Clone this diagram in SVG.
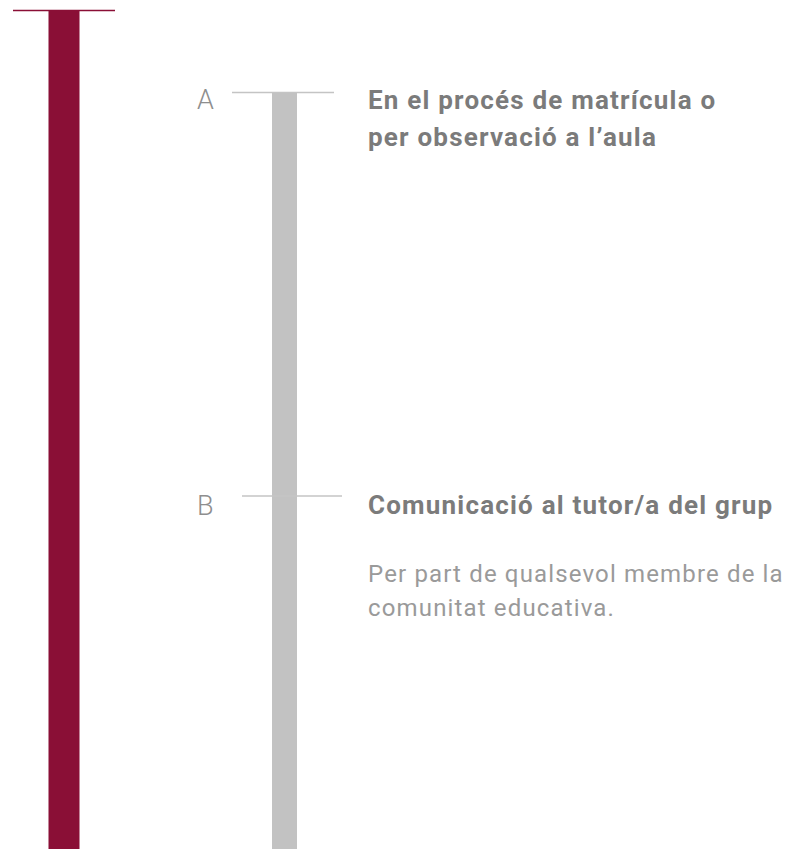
<svg xmlns="http://www.w3.org/2000/svg" width="787" height="849" viewBox="0 0 787 849">
<style>
.lbl{font-family:Roboto,"Liberation Sans",sans-serif;font-size:27px;font-weight:300;fill:#8e8e8e}
.ttl{font-family:Roboto,"Liberation Sans",sans-serif;font-size:26px;font-weight:700;letter-spacing:1.2px;fill:#7b7b7b}
.body{font-family:Roboto,"Liberation Sans",sans-serif;font-size:24px;font-weight:400;letter-spacing:1.15px;fill:#9a9a9a}
.tick{stroke:#c4c4c4;stroke-width:1.3}
</style>
<rect width="787" height="849" fill="#ffffff"/>
<g id="main-track">
<line x1="13" y1="10.5" x2="115" y2="10.5" stroke="#8a0f36" stroke-width="1.5"/>
<rect x="48.5" y="10" width="31" height="839" fill="#8a0f36"/>
</g>
<g id="sub-track">
<rect x="272" y="93" width="25" height="756" fill="#c2c2c2"/>
</g>
<g id="connectors">
<line class="tick" x1="232" y1="92.5" x2="334" y2="92.5"/>
<line class="tick" x1="242" y1="496" x2="342" y2="496"/>
</g>
<g id="node-a">
<text class="lbl" x="197" y="109">A</text>
<text class="ttl" x="368" y="109">En el procés de matrícula o</text>
<text class="ttl" x="368" y="146">per observació a l’aula</text>
</g>
<g id="node-b">
<text class="lbl" x="197" y="515">B</text>
<text class="ttl" x="368" y="514">Comunicació al tutor/a del grup</text>
<text class="body" x="368" y="582">Per part de qualsevol membre de la</text>
<text class="body" x="368" y="616">comunitat educativa.</text>
</g>
</svg>
